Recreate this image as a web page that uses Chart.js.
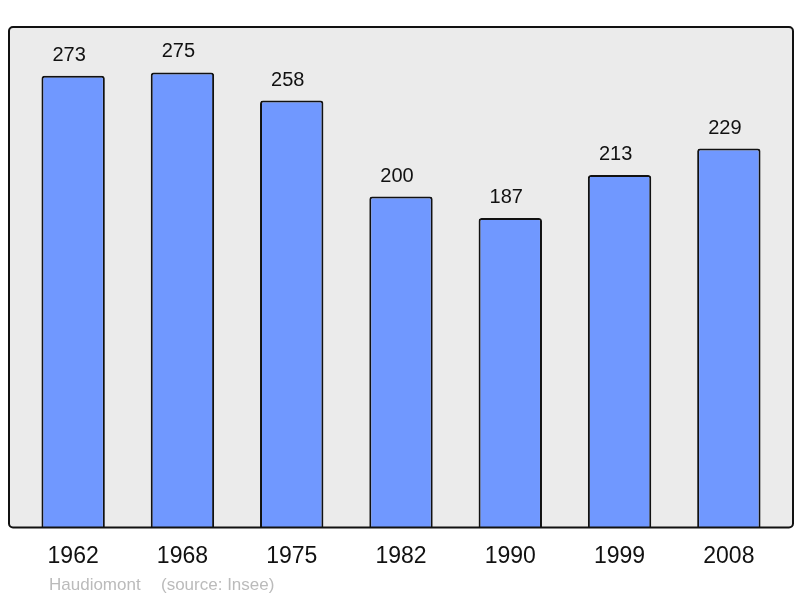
<!DOCTYPE html>
<html>
<head>
<meta charset="utf-8">
<script src="https://cdn.jsdelivr.net/npm/chart.js@4/dist/chart.umd.min.js"></script>
<style>
  html, body { margin: 0; padding: 0; background: #fff; }
  #wrap { width: 800px; height: 598px; }
</style>
</head>
<body>
<div id="wrap"><canvas id="popChart" width="800" height="598"></canvas></div>
<script>
const years = ["1962", "1968", "1975", "1982", "1990", "1999", "2008"];
const population = [273, 275, 258, 200, 187, 213, 229];
const commune = "Haudiomont";
const sourceText = "(source: Insee)";

// frame, value labels and the footer text
const decorations = {
  id: 'decorations',
  beforeDatasetsDraw(chart) {
    const { ctx, chartArea } = chart;
    ctx.save();
    ctx.fillStyle = '#ebebeb';
    ctx.beginPath();
    ctx.roundRect(chartArea.left - 9.5, chartArea.top, chartArea.width + 19, chartArea.height, 4);
    ctx.fill();
    ctx.restore();
  },
  afterDatasetsDraw(chart) {
    const { ctx, chartArea } = chart;
    ctx.save();
    ctx.strokeStyle = '#111';
    ctx.lineWidth = 2;
    ctx.beginPath();
    ctx.roundRect(chartArea.left - 9.5, chartArea.top, chartArea.width + 19, chartArea.height, 4);
    ctx.stroke();

    const meta = chart.getDatasetMeta(0);
    ctx.fillStyle = '#111';
    ctx.font = '20px "Liberation Sans", Arial, sans-serif';
    ctx.textAlign = 'center';
    ctx.textBaseline = 'alphabetic';
    meta.data.forEach((bar, i) => {
      ctx.fillText(String(population[i]), bar.x - 4, bar.y - 15);
    });

    ctx.fillStyle = '#bbbbbb';
    ctx.font = '17px "Liberation Sans", Arial, sans-serif';
    ctx.textAlign = 'left';
    ctx.fillText(commune, 49, 590);
    ctx.fillText(sourceText, 161, 590);
    ctx.restore();
  }
};

const ctx = document.getElementById('popChart').getContext('2d');
const popChart = new Chart(ctx, {
  type: 'bar',
  data: {
    labels: years,
    datasets: [{
      data: population,
      backgroundColor: '#7098ff',
      borderColor: '#111',
      borderWidth: 2,
      borderRadius: { topLeft: 3, topRight: 3 },
      borderSkipped: 'bottom',
      barPercentage: 0.58,
      categoryPercentage: 1.0
    }]
  },
  options: {
    responsive: false,
    animation: false,
    layout: {
      padding: { left: 18.5, right: 16.5, top: 27, bottom: 13 }
    },
    plugins: {
      legend: { display: false },
      tooltip: { enabled: false }
    },
    scales: {
      x: {
        grid: { display: false, drawTicks: false },
        border: { display: false },
        ticks: {
          color: '#111',
          padding: 15,
          font: { family: '"Liberation Sans", Arial, sans-serif', size: 23 }
        }
      },
      y: {
        display: false,
        min: 0,
        max: 302.5
      }
    }
  },
  plugins: [decorations]
});
</script>
</body>
</html>
